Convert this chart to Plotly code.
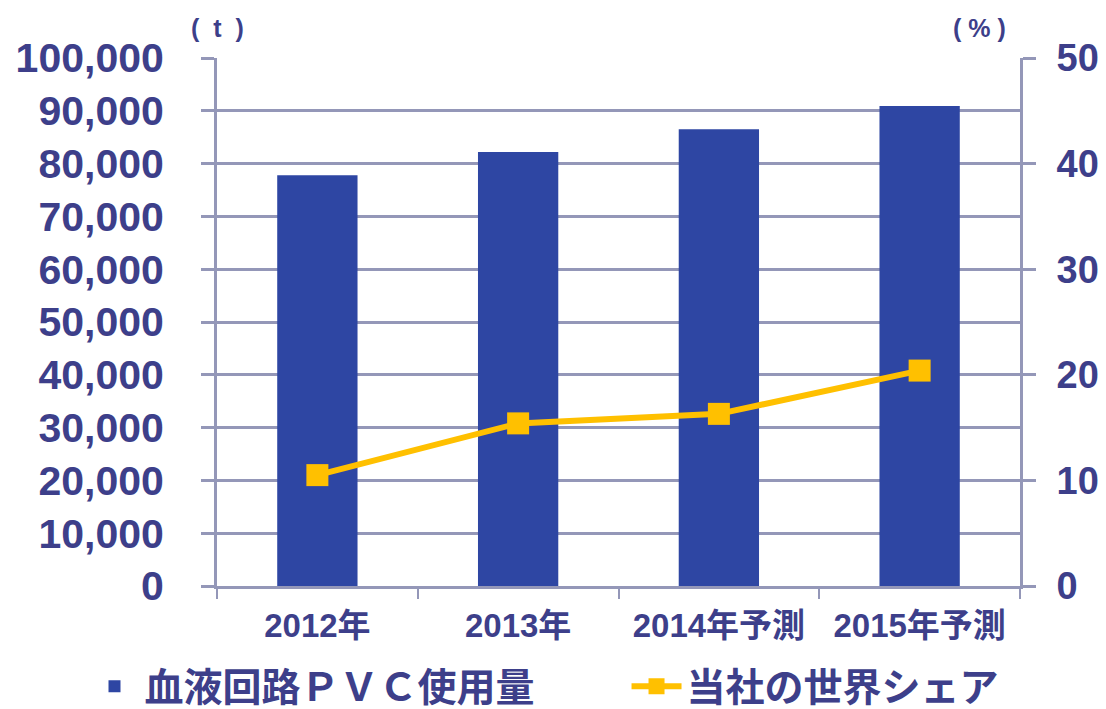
import plotly.graph_objects as go

categories = ["2012年", "2013年", "2014年予測", "2015年予測"]
pvc_usage = [77800, 82200, 86500, 90900]
world_share = [10.5, 15.4, 16.3, 20.4]
left_ticks = [0, 10000, 20000, 30000, 40000, 50000, 60000, 70000, 80000, 90000, 100000]
right_ticks = [0, 10, 20, 30, 40, 50]

TXT = "#3d3f8a"
GRID = "#9497b8"
BAR = "#2e46a3"
GOLD = "#ffc000"
FONT = "Liberation Sans, Noto Sans CJK JP"
LEGFONT = dict(family="Noto Sans CJK JP", size=39, color=TXT, weight="bold")

fig = go.Figure()
fig.add_trace(go.Bar(
    x=categories, y=pvc_usage, name="血液回路ＰＶＣ使用量",
    marker=dict(color=BAR, line=dict(width=0)), yaxis="y", legend="legend",
))
fig.add_trace(go.Scatter(
    x=categories, y=world_share, name="当社の世界シェア", mode="lines+markers",
    line=dict(color=GOLD, width=6), marker=dict(symbol="square", size=22, color=GOLD),
    yaxis="y2", legend="legend2",
))

fig.update_layout(
    width=1106, height=709,
    margin=dict(l=209, r=94, t=50, b=131, autoexpand=False),
    paper_bgcolor="white", plot_bgcolor="white",
    bargap=0.6,
    showlegend=True,
    legend=dict(
        orientation="h", x=-0.165, xanchor="left", y=-0.19, yanchor="middle",
        font=LEGFONT, itemwidth=50, bgcolor="rgba(0,0,0,0)",
    ),
    legend2=dict(
        orientation="h", x=0.51, xanchor="left", y=-0.19, yanchor="middle",
        font=LEGFONT, itemwidth=50, bgcolor="rgba(0,0,0,0)",
    ),
    xaxis=dict(
        type="category", tickson="boundaries", ticks="outside", ticklen=10,
        tickwidth=2, tickcolor=GRID, showline=True, linecolor=GRID, linewidth=3,
        showgrid=False, ticklabelstandoff=8, automargin=False,
        tickfont=dict(family=FONT, size=33, color=TXT, weight="bold"),
    ),
    yaxis=dict(
        range=[0, 100000], tickvals=left_ticks, tickformat=",d",
        showgrid=True, gridcolor=GRID, gridwidth=3, zeroline=False,
        showline=True, linecolor=GRID, linewidth=3,
        ticks="outside", ticklen=13, tickwidth=3, tickcolor=GRID,
        ticklabelstandoff=29, automargin=False,
        tickfont=dict(family=FONT, size=41, color=TXT, weight="bold"),
    ),
    yaxis2=dict(
        range=[0, 50], tickvals=right_ticks, overlaying="y", side="right",
        showgrid=False, zeroline=False,
        showline=True, linecolor=GRID, linewidth=3,
        ticks="outside", ticklen=13, tickwidth=3, tickcolor=GRID,
        ticklabelstandoff=13, automargin=False,
        tickfont=dict(family=FONT, size=38, color=TXT, weight="bold"),
    ),
    annotations=[
        dict(text="(  t  )", xref="paper", yref="paper", x=0.0, y=1.057,
             xanchor="center", yanchor="middle", showarrow=False,
             font=dict(family=FONT, size=25, color=TXT, weight="bold")),
        dict(text="( % )", xref="paper", yref="paper", x=0.95, y=1.057,
             xanchor="center", yanchor="middle", showarrow=False,
             font=dict(family=FONT, size=25, color=TXT, weight="bold")),
    ],
)

fig.write_html("out.html")
